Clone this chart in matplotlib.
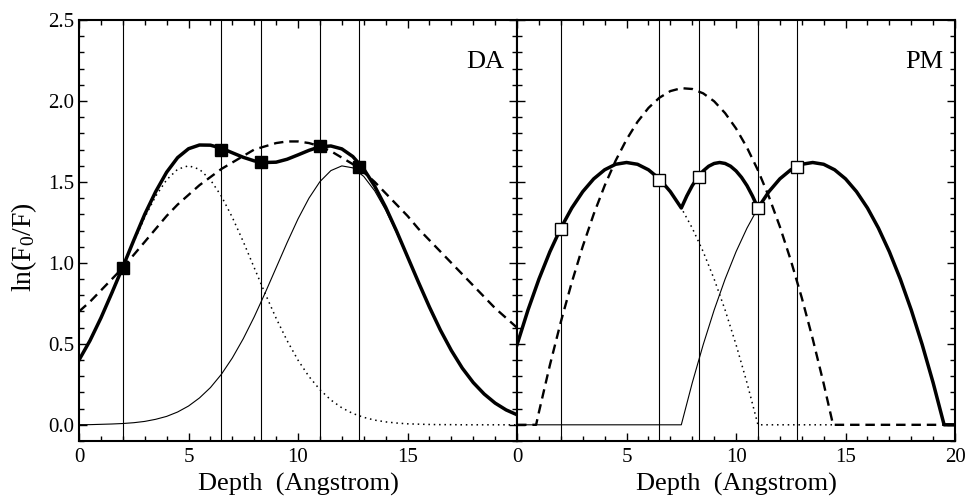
import numpy as np
import matplotlib
matplotlib.use('Agg')
import matplotlib.pyplot as plt
from matplotlib.ticker import MultipleLocator

plt.rcParams['font.family'] = ['Liberation Serif', 'DejaVu Serif']
plt.rcParams['mathtext.default'] = 'regular'

# depth grid (Angstrom) for the DA curves
depth = np.arange(0, 20.5, 0.5)

# DA panel
da_total = [0.40, 0.52, 0.66, 0.815, 0.975, 1.14, 1.30, 1.44, 1.56, 1.65, 1.705,
            1.728, 1.727, 1.708, 1.68, 1.652, 1.630, 1.620, 1.622, 1.64, 1.667,
            1.695, 1.717, 1.722, 1.704, 1.657, 1.58, 1.474, 1.344, 1.196, 1.038,
            0.88, 0.727, 0.585, 0.459, 0.35, 0.261, 0.19, 0.134, 0.092, 0.062]
da_dashed = [0.70, 0.76, 0.83, 0.90, 0.97, 1.05, 1.13, 1.21, 1.29, 1.36, 1.42,
             1.48, 1.53, 1.58, 1.62, 1.66, 1.70, 1.72, 1.74, 1.75, 1.75,
             1.74, 1.72, 1.69, 1.65, 1.61, 1.56, 1.50, 1.43, 1.36, 1.29,
             1.21, 1.14, 1.07, 1.00, 0.93, 0.86, 0.79, 0.72, 0.66, 0.60]
da_dotted = [0.399, 0.52, 0.658, 0.81, 0.97, 1.131, 1.281, 1.412, 1.513, 1.578, 1.60,
             1.578, 1.513, 1.412, 1.281, 1.131, 0.97, 0.81, 0.658, 0.52, 0.399,
             0.298, 0.217, 0.153, 0.105, 0.07, 0.046, 0.029, 0.018, 0.011, 0.006,
             0.004, 0.002, 0.001, 0.001, 0, 0, 0, 0, 0, 0]
da_thin = [0.001, 0.001, 0.003, 0.005, 0.008, 0.013, 0.021, 0.034, 0.052, 0.079, 0.116,
           0.166, 0.23, 0.312, 0.413, 0.532, 0.667, 0.815, 0.97, 1.125, 1.272,
           1.40, 1.502, 1.57, 1.599, 1.587, 1.534, 1.445, 1.326, 1.185, 1.032,
           0.876, 0.725, 0.584, 0.458, 0.35, 0.261, 0.19, 0.134, 0.092, 0.062]

# PM panel
pm_total_x = [0, 0.5, 1, 1.5, 2, 2.5, 3, 3.5, 4, 4.5, 5, 5.5, 6, 6.5, 7, 7.5,
              7.75, 8, 8.25, 8.5, 8.75, 9, 9.25, 9.5, 9.75, 10, 10.25, 10.5, 10.75, 11,
              11.5, 12, 12.5, 13, 13.5, 14, 14.5, 15, 15.5, 16, 16.5, 17, 17.5,
              18, 18.5, 19, 19.5, 20]
pm_total = [0.495, 0.709, 0.90, 1.069, 1.215, 1.339, 1.44, 1.519, 1.575, 1.609, 1.62,
            1.609, 1.575, 1.519, 1.44, 1.339,
            1.413, 1.477, 1.528, 1.568, 1.597, 1.614, 1.62, 1.614, 1.597, 1.568,
            1.528, 1.477, 1.413, 1.339,
            1.44, 1.519, 1.575, 1.609, 1.62, 1.609, 1.575, 1.519, 1.44, 1.339,
            1.215, 1.069, 0.90, 0.709, 0.495, 0.259, 0.0, 0.0]
pm_dashed_x = [0, 0.87, 1, 1.5, 2, 2.5, 3, 3.5, 4, 4.5, 5, 5.5, 6, 6.5, 7, 7.5,
               8, 8.5, 9, 9.5, 10, 10.5, 11, 11.5, 12, 12.5, 13, 13.5, 14, 14.43, 20]
pm_dashed = [0, 0, 0.079, 0.369, 0.636, 0.88, 1.102, 1.301, 1.477, 1.631, 1.762,
             1.871, 1.957, 2.02, 2.061, 2.079, 2.074, 2.047, 1.998, 1.925, 1.83,
             1.712, 1.572, 1.409, 1.224, 1.016, 0.785, 0.531, 0.255, 0, 0]
pm_dotted_x = [0, 0.5, 1, 1.5, 2, 2.5, 3, 3.5, 4, 4.5, 5, 5.5, 6, 6.5, 7, 7.5,
               8, 8.5, 9, 9.5, 10, 10.5, 11, 14.5]
pm_dotted = [0.495, 0.709, 0.90, 1.069, 1.215, 1.339, 1.44, 1.519, 1.575, 1.609, 1.62,
             1.609, 1.575, 1.519, 1.44, 1.339, 1.215, 1.069, 0.90, 0.709, 0.495,
             0.259, 0.0, 0.0]
pm_thin_x = [0, 7.5, 8, 8.5, 9, 9.5, 10, 10.5, 11]
pm_thin = [0, 0, 0.259, 0.495, 0.709, 0.90, 1.069, 1.215, 1.339]

# probe positions and measured points
wells = [2.0, 6.5, 8.3, 11.0, 12.8]
da_points = [0.97, 1.70, 1.62, 1.72, 1.59]
pm_points = [1.21, 1.51, 1.53, 1.34, 1.59]

fig = plt.figure(figsize=(9.65, 5.04), dpi=100)
ax1 = fig.add_axes([0.0819, 0.125, 0.4539, 0.8353])
ax2 = fig.add_axes([0.5358, 0.125, 0.4539, 0.8353])

dash = (0, (4, 2.5))
dot = (0, (1, 2.5))

for ax in (ax1, ax2):
    for w in wells:
        ax.axvline(w, color='black', lw=0.8, zorder=1)

ax1.plot(depth, da_dotted, color='black', lw=1.1, ls=dot, zorder=2)
ax1.plot(depth, da_thin, color='black', lw=0.8, zorder=2)
ax1.plot(depth, da_dashed, color='black', lw=1.7, ls=dash, zorder=3)
ax1.plot(depth, da_total, color='black', lw=2.5, zorder=4)
ax1.plot(wells, da_points, 's', color='black', ms=8, zorder=5)

ax2.plot(pm_dotted_x, pm_dotted, color='black', lw=1.1, ls=dot, zorder=2)
ax2.plot(pm_thin_x, pm_thin, color='black', lw=0.8, zorder=2)
ax2.plot(pm_dashed_x, pm_dashed, color='black', lw=1.7, ls=dash, zorder=3)
ax2.plot(pm_total_x, pm_total, color='black', lw=2.5, zorder=4)
ax2.plot(wells, pm_points, 's', mfc='white', mec='black', mew=1.0, ms=8, zorder=5)

for ax in (ax1, ax2):
    ax.set_xlim(0, 20)
    ax.set_ylim(-0.1, 2.5)
    ax.xaxis.set_minor_locator(MultipleLocator(1))
    ax.yaxis.set_major_locator(MultipleLocator(0.5))
    ax.yaxis.set_minor_locator(MultipleLocator(0.1))
    ax.tick_params(which='both', direction='in', top=True, right=True,
                   labelsize=15, width=1)
    ax.tick_params(axis='x', which='major', pad=5)
    ax.tick_params(which='major', length=6)
    ax.tick_params(which='minor', length=3.5)
    for s in ax.spines.values():
        s.set_linewidth(1.5)
    ax.set_xlabel('Depth  (Angstrom)', fontsize=19, labelpad=4)

ax1.set_xticks([0, 5, 10, 15])
ax1.yaxis.set_major_formatter(matplotlib.ticker.FormatStrFormatter('%.1f'))
ax2.set_xticks([0, 5, 10, 15, 20])
ax2.tick_params(labelleft=False)

ax1.text(0.970, 0.90, 'DA', transform=ax1.transAxes, ha='right', va='center', fontsize=19)
ax2.text(0.973, 0.90, 'PM', transform=ax2.transAxes, ha='right', va='center', fontsize=19)

fig.text(0.025, 0.51, 'ln(F$_0$/F)', rotation=90, ha='center', va='center', fontsize=20)

fig.savefig('out.png', dpi=100)
